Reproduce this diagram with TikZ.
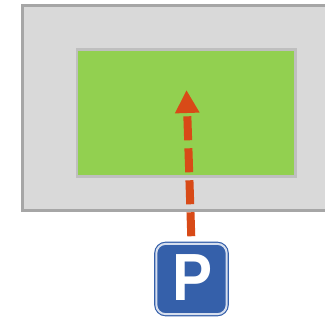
\documentclass[tikz,border=0pt]{standalone}
\usepackage{fontspec}
\setmainfont{Liberation Sans}
\usepackage{xcolor}
\usetikzlibrary{arrows.meta,positioning}
\definecolor{lotgray}{HTML}{D9D9D9}
\definecolor{lotedge}{HTML}{A6A6A6}
\definecolor{zonegreen}{HTML}{92D050}
\definecolor{zoneedge}{HTML}{BFBFBF}
\definecolor{routeorange}{HTML}{D84A17}
\definecolor{signblue}{HTML}{3560AA}
\begin{document}
\begin{tikzpicture}[
  x=0.03cm, y=-0.03cm,
  lotbox/.style={draw=lotedge, fill=lotgray, line width=0.09cm, minimum width=9.66cm,
                 minimum height=6.15cm, inner sep=0pt},
  zonebox/.style={draw=zoneedge, fill=zonegreen, line width=0.08cm, minimum width=6.56cm,
                  minimum height=3.82cm, inner sep=0pt},
  signbox/.style={draw=signblue, double=white!80!signblue, double distance=0.06cm,
                  line width=0.035cm, fill=signblue, rounded corners=8pt,
                  minimum width=2.11cm, minimum height=2.11cm, inner sep=0pt,
                  text=white, font=\fontsize{57}{57}\selectfont\bfseries},
  arr/.style={-{Triangle[length=0.69cm, width=0.69cm]}, routeorange, line width=0.24cm,
              dash pattern=on 0.72cm off 0.24cm, shorten <=0.21cm}
]
  \clip (0,0) rectangle (325,324);
  \fill[white] (0,0) rectangle (325,324);
  % parking lot and free zone
  \node[lotbox] (lot) at (184,107.5) {};
  \node[zonebox] (zone) at (186.3,113) {};
  % sign below the lot
  \node[signbox] (sign) at (191.5,279) {\raisebox{2pt}{\hspace{2pt}\scalebox{0.9}[1]{P}}};
  \coordinate (tip) at (186.5,90);
  % Route
  \draw[arr] (sign.north) -- (tip);
\end{tikzpicture}
\end{document}
